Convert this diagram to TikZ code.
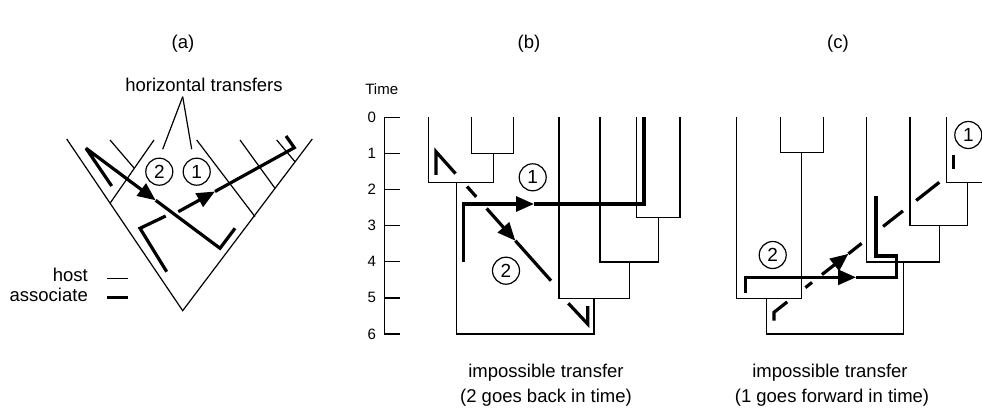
\documentclass[tikz,border=0pt]{standalone}
\usepackage{fontspec}
\setmainfont{Liberation Sans}
\usetikzlibrary{arrows.meta, calc}

\begin{document}
\begin{tikzpicture}[x=1pt, y=-1pt,
		host/.style={line width=1.2pt},
		assoc/.style={line width=3.2pt, miter limit=3},
		hgt/.style={-{Triangle[length=18pt,width=15pt]}},
		lbl/.style={font=\fontsize{18.5}{21}\selectfont, inner sep=1pt},
		small/.style={font=\fontsize{15}{18}\selectfont, inner sep=1pt},
		circ/.style={circle, draw, line width=1.2pt, minimum size=27pt, inner sep=0pt, font=\fontsize{19}{21}\selectfont}]
			\useasboundingbox (0,0) rectangle (982,414);
			\node[lbl] (ta) at (183,44) {(a)};
			\node[lbl] (tb) at (529,44) {(b)};
			\node[lbl] (tc) at (838,44) {(c)};
			\draw[host] (66.7,139) -- (182.7,310.7) -- (312.3,139);
			\draw[host] (154,140) -- (110,203.3);
			\draw[host] (110,140) -- (134.3,168.3);
			\draw[host] (196.7,140) -- (255,216.7);
			\draw[host] (240,140) -- (275,188.3);
			\draw[host] (276.7,140) -- (295,161.7);
			\coordinate (aa1) at (86,148.3);
			\coordinate (aa2) at (220,248.3);
			\draw[assoc, hgt] (111.7,186) -- (aa1) -- ($(aa1)!0.52!(aa2)$);
			\draw[assoc] ($(aa1)!0.52!(aa2)$) -- (aa2) -- (235,228.3);
			\draw[assoc] (166.7,271.7) -- (140,228.3) -- (165.7,216);
			\draw[assoc, hgt] (178.3,211.7) -- (215,191.5);
			\draw[assoc] (215,191.5) -- (294.3,147.7) -- (286,136);
			\node[circ] (a2c) at (159.3,171.7) {2};
			\node[circ] (a1c) at (196.7,171.7) {1};
			\node[lbl] (httext) at (204,85) {horizontal transfers};
			\coordinate (ht) at (182.7,96.7);
			\draw[host] (ht) -- ([shift={(3.4,-8.4)}]a2c.north);
			\draw[host] (ht) -- ([shift={(-5,-8.4)}]a1c.north);
			\node[lbl, anchor=base east] (hostlbl) at (89,281.7) {host};
			\node[lbl, anchor=base east] (asslbl) at (89,301.7) {associate};
			\draw[host] ([shift={(18.3,-3.4)}]hostlbl.base east) -- ++(21,0);
			\draw[assoc] ([shift={(18.3,-4.4)}]asslbl.base east) -- ++(21,0);
			\node[small] (time) at (381.7,89.3) {Time};
			\draw[host] (400,117.3) -- (384.3,117.3) -- (384.3,334) -- (400,334);
			\foreach \t in {0,...,6} {
				\draw[host] (384.3,{117.3+36.12*\t}) -- ++(15.7,0);
				\node[small] (tick\t) at (371.7,{117.3+36.12*\t}) {\t};
			}
			\draw[host] (471.7,117.3) -- (471.7,153.3) -- (513.3,153.3) -- (513.3,117.3);
			\draw[host] (493.3,153.3) -- (493.3,182.7);
			\draw[host] (428.3,117.3) -- (428.3,182.7) -- (493.3,182.7);
			\draw[host] (456.7,182.7) -- (456.7,334) -- (594,334) -- (594,298.3);
			\draw[host] (559,117.3) -- (559,298.3) -- (629.3,298.3) -- (629.3,262);
			\draw[host] (600,117.3) -- (600,262) -- (658.3,262) -- (658.3,217.3);
			\draw[host] (636.7,117.3) -- (636.7,217.3) -- (680,217.3) -- (680,117.3);
			\coordinate (b1) at (436,151.7);
			\coordinate (b2) at (551,280.7);
			\draw[assoc] (436,175) -- (b1) -- ($(b1)!0.17!(b2)$);
			\draw[assoc] ($(b1)!0.27!(b2)$) -- ($(b1)!0.35!(b2)$);
			\draw[assoc, hgt] ($(b1)!0.44!(b2)$) -- ($(b1)!0.69!(b2)$);
			\draw[assoc] ($(b1)!0.69!(b2)$) -- (b2);
			\draw[assoc] (568.3,303.3) -- (587.7,324) -- (587.7,306);
			\draw[assoc, hgt] (463.3,261.7) -- (463.3,204) -- (534,204);
			\draw[assoc] (534,204) -- (644,204) -- (644,117.3);
			\node[circ] (b1c) at (532.7,177.3) {1};
			\node[circ] (b2c) at (506,270.7) {2};
			\node[lbl] (bimp) at (546,373) {impossible transfer};
			\node[lbl] (bwhy) at (546,398) {(2 goes back in time)};
			\draw[host] (780.7,117.3) -- (780.7,152.7) -- (823.3,152.7) -- (823.3,117.3);
			\draw[host] (801.7,152.7) -- (801.7,298.3);
			\draw[host] (736.7,117.3) -- (736.7,298.3) -- (801.7,298.3);
			\draw[host] (766.7,298.3) -- (766.7,334) -- (903.3,334) -- (903.3,262);
			\draw[host] (866.7,117.3) -- (866.7,262) -- (939.3,262) -- (939.3,225.7);
			\draw[host] (910,117.3) -- (910,225.7) -- (967.7,225.7) -- (967.7,182.3);
			\draw[host] (946.7,117.3) -- (946.7,182.3) -- (982,182.3);
			\draw[assoc, hgt] (745.7,293.3) -- (745.7,277.3) -- (856,277.3);
			\draw[assoc] (856,277.3) -- (896.7,277.3) -- (896.7,256) -- (876,256) -- (876,196);
			\draw[assoc] (953.3,155) -- (953.3,169.3);
			\coordinate (c1) at (774,312.3);
			\coordinate (c2) at (939.3,182.3);
			\draw[assoc] (774,320.7) -- (c1) -- ($(c1)!0.08!(c2)$);
			\draw[assoc] ($(c1)!0.19!(c2)$) -- ($(c1)!0.23!(c2)$);
			\draw[assoc, hgt] ($(c1)!0.29!(c2)$) -- ($(c1)!0.45!(c2)$);
			\draw[assoc] ($(c1)!0.45!(c2)$) -- ($(c1)!0.53!(c2)$);
			\draw[assoc] ($(c1)!0.66!(c2)$) -- ($(c1)!0.78!(c2)$);
			\draw[assoc] ($(c1)!0.86!(c2)$) -- (c2);
			\node[circ] (c2c) at (772.7,255) {2};
			\node[circ] (c1c) at (968.3,135) {1};
			\node[lbl] (cimp) at (830,373) {impossible transfer};
			\node[lbl] (cwhy) at (832,398) {(1 goes forward in time)};
		\end{tikzpicture}
\end{document}
